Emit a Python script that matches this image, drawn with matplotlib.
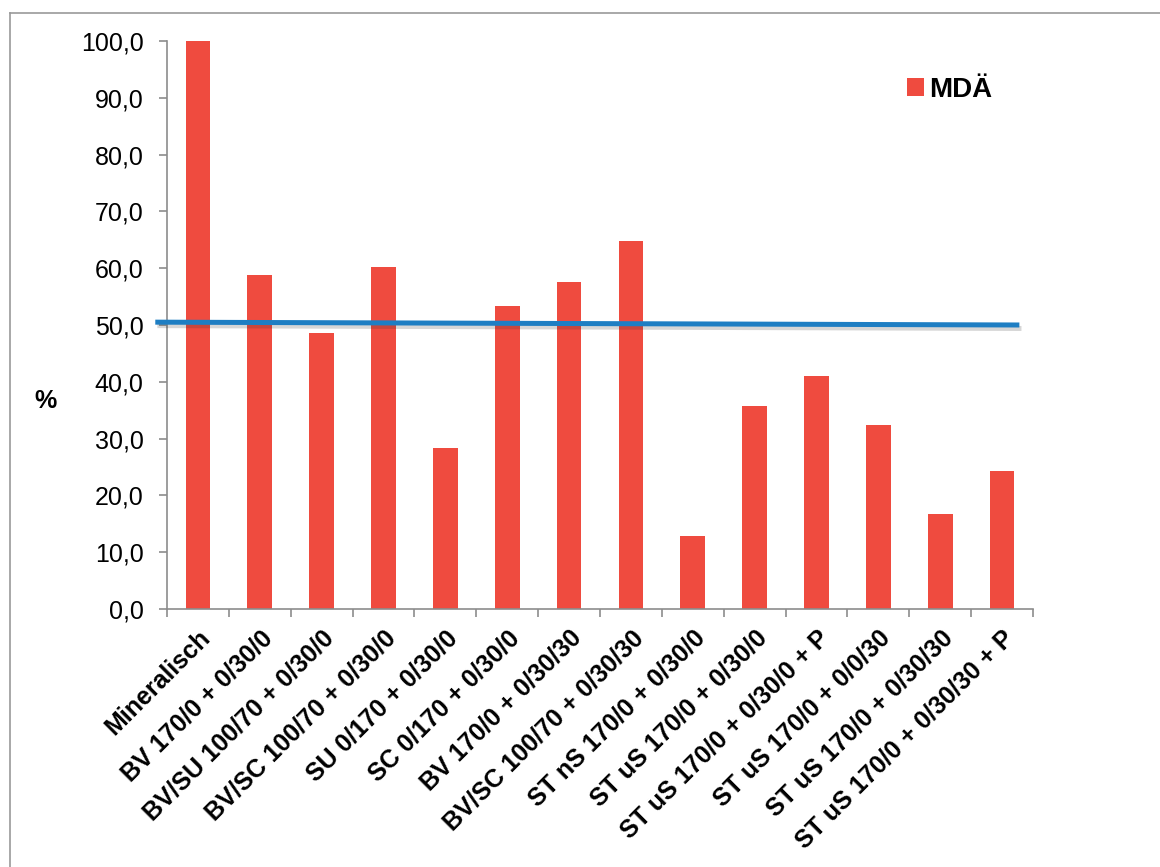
import numpy as np
import matplotlib.pyplot as plt
import matplotlib.patheffects as pe
from matplotlib.ticker import FixedLocator, FuncFormatter
from matplotlib.lines import Line2D

plt.rcParams['font.family'] = ['Liberation Sans', 'DejaVu Sans']

# Daten
kategorien = [
    "Mineralisch",
    "BV 170/0 + 0/30/0",
    "BV/SU 100/70 + 0/30/0",
    "BV/SC 100/70 + 0/30/0",
    "SU 0/170 + 0/30/0",
    "SC 0/170 + 0/30/0",
    "BV 170/0 + 0/30/30",
    "BV/SC 100/70 + 0/30/30",
    "ST nS 170/0 + 0/30/0",
    "ST uS 170/0 + 0/30/0",
    "ST uS 170/0 + 0/30/0 + P",
    "ST uS 170/0 + 0/0/30",
    "ST uS 170/0 + 0/30/30",
    "ST uS 170/0 + 0/30/30 + P",
]
mdae = [100.0, 58.8, 48.6, 60.2, 28.3, 53.3, 57.6, 64.8, 12.9, 35.7, 41.0, 32.4, 16.7, 24.3]
linie_y = [50.5, 50.0]

fig = plt.figure(figsize=(11.6, 8.67), dpi=100)
ax = fig.add_axes([0.144, 0.2976, 0.7465, 0.6551])

x = np.arange(len(kategorien))
ax.bar(x, mdae, width=0.4, color='#EF4B3F', label='MDÄ', zorder=2)

# blaue Linie bei ~50 %
ax.add_line(Line2D([-0.69, 13.28], linie_y, color='#1E7EC3', lw=3.6, clip_on=False,
                   solid_capstyle='butt', zorder=3,
                   path_effects=[pe.SimpleLineShadow(offset=(1.5, -2.5), alpha=0.2, shadow_color='#333333'),
                                 pe.Normal()]))

ax.set_xlim(-0.5, len(kategorien) - 0.5)
ax.set_ylim(0, 100)
ax.set_yticks(np.arange(0, 101, 10))
ax.yaxis.set_major_formatter(FuncFormatter(lambda v, p: f"{v:.1f}".replace('.', ',')))
ax.tick_params(axis='y', labelsize=18, length=6, color='#8C8C8C', width=1.2, pad=11)

ax.set_xticks(x)
ax.set_xticklabels(kategorien, rotation=45, ha='right', rotation_mode='anchor',
                   fontsize=18, fontweight='bold')
ax.tick_params(axis='x', which='major', length=0, pad=12)
ax.xaxis.set_minor_locator(FixedLocator(np.arange(-0.5, len(kategorien), 1)))
ax.tick_params(axis='x', which='minor', length=6, color='#8C8C8C', width=1.2)

for s in ['top', 'right']:
    ax.spines[s].set_visible(False)
for s in ['left', 'bottom']:
    ax.spines[s].set_color('#8C8C8C')
    ax.spines[s].set_linewidth(1.2)

fig.text(0.039, 0.537, '%', fontsize=18, fontweight='bold', ha='center', va='center')

ax.legend(loc='upper left', bbox_to_anchor=(0.826, 0.981), frameon=False,
          prop={'size': 20, 'weight': 'bold'}, handlelength=0.6, handleheight=0.6,
          handletextpad=0.2)

# Rahmen um das Diagramm
fig.add_artist(Line2D([10 / 1160, 10 / 1160], [0, 1 - 13 / 867], color='#999999', lw=1.2))
fig.add_artist(Line2D([10 / 1160, 1], [1 - 13 / 867, 1 - 13 / 867], color='#999999', lw=1.2))

fig.savefig('out.png', dpi=100)
